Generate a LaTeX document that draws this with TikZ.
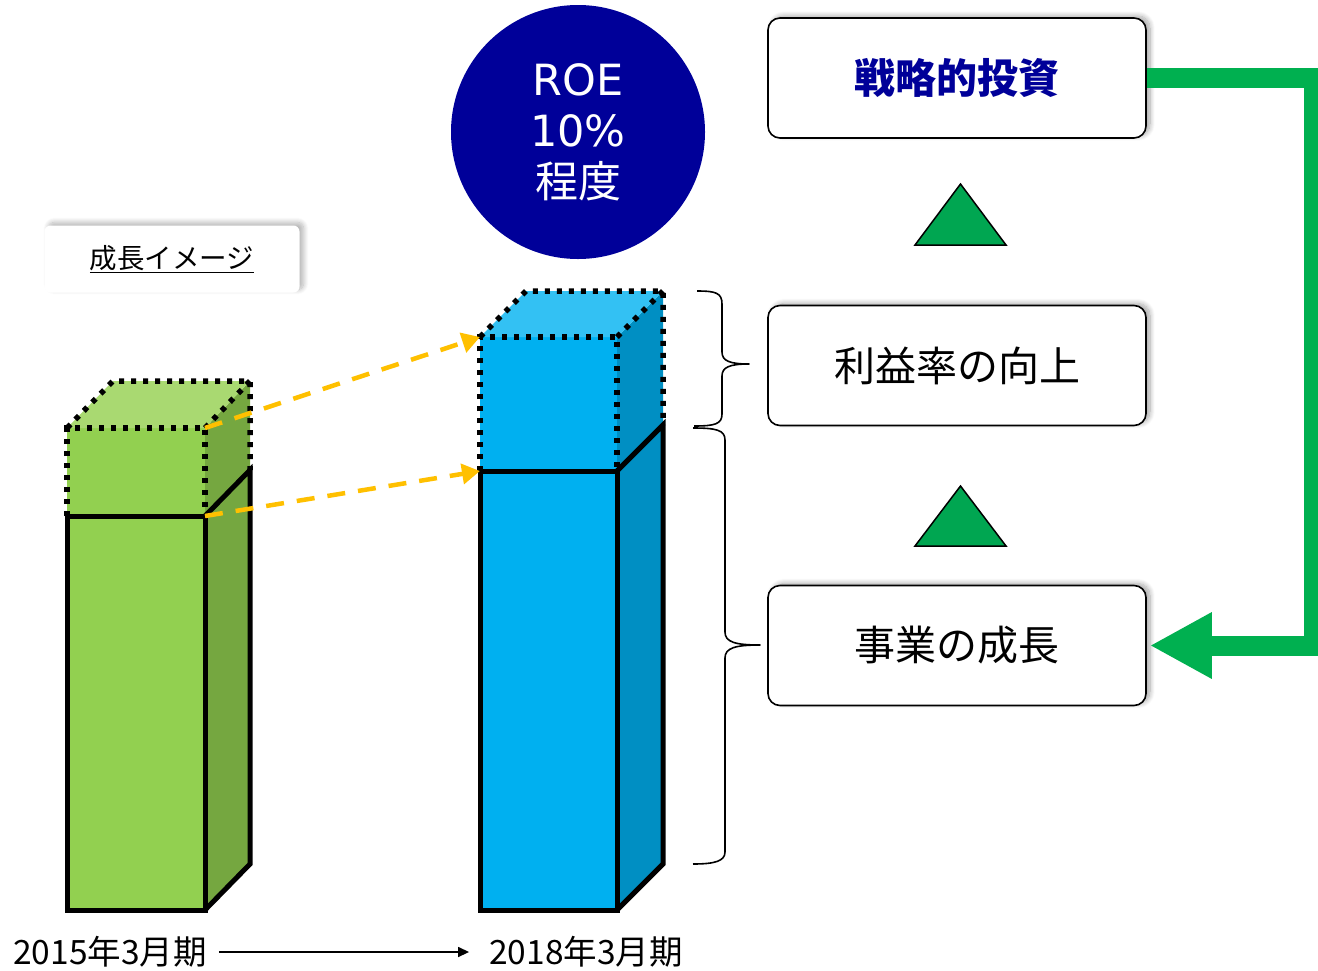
\documentclass[tikz,border=0pt]{standalone}
\usepackage{fontspec}
\setmainfont{Noto Sans CJK JP}
\newfontfamily\latinfont{DejaVu Sans}
\usetikzlibrary{arrows.meta,shadows,shadows.blur}
\definecolor{navy}{HTML}{000099}
\definecolor{gfront}{HTML}{92D050}
\definecolor{gtop}{HTML}{A9D971}
\definecolor{gside}{HTML}{75A740}
\definecolor{bfront}{HTML}{00B0F0}
\definecolor{btop}{HTML}{33C1F3}
\definecolor{bside}{HTML}{008FC3}
\definecolor{orangeA}{HTML}{FFC000}
\definecolor{greenA}{HTML}{00B050}
\definecolor{greenT}{HTML}{00A651}
\begin{document}
\begin{tikzpicture}[x=1pt,y=-1pt,
  solidedge/.style={line width=5pt, line join=miter},
  dotedge/.style={line width=5.5pt, dash pattern=on 5pt off 7pt, line join=miter},
  softshadow/.style={blur shadow={shadow xshift=4pt, shadow yshift=2pt,
     shadow blur radius=5pt, shadow blur steps=10, shadow opacity=35}},
  stepbox/.style={draw, rounded corners=12pt, line width=1.6pt, fill=white,
     minimum width=378pt, minimum height=120pt, inner sep=0pt,
     font=\fontsize{40}{48}\selectfont, softshadow},
  tri/.style={fill=greenT, draw=black, line width=1.5pt},
  orangearrow/.style={draw=orangeA, line width=4.5pt, dash pattern=on 18pt off 13pt,
     -{Triangle[length=18pt,width=20pt]}},
  bracepath/.style={line width=1.6pt, line join=round}
]
\useasboundingbox (0,0) rectangle (1318,970);

% ---------- green bar (2015) ----------
\fill[gfront] (67,516) -- (205,516) -- (205,910) -- (67,910) -- cycle;
\fill[gside] (205,516) -- (250,470) -- (250,864) -- (205,910) -- cycle;
\fill[gfront] (67,428) -- (205,428) -- (205,516) -- (67,516) -- cycle;
\fill[gside] (205,428) -- (250,381) -- (250,470) -- (205,516) -- cycle;
\fill[gtop] (67,428) -- (113,381) -- (250,381) -- (205,428) -- cycle;
\draw[solidedge] (67,516) -- (205,516) -- (205,910) -- (67,910) -- cycle;
\draw[solidedge] (205,516) -- (250,470) -- (250,864) -- (205,910);
\draw[dotedge] (67,516) -- (67,428) -- (205,428) -- (205,516);
\draw[dotedge] (67,428) -- (113,381) -- (250,381) -- (250,470);
\draw[dotedge] (205,428) -- (250,381);

% ---------- blue bar (2018) ----------
\fill[bfront] (480,471) -- (617,471) -- (617,910) -- (480,910) -- cycle;
\fill[bside] (617,471) -- (663,425) -- (663,864) -- (617,910) -- cycle;
\fill[bfront] (480,337) -- (617,337) -- (617,471) -- (480,471) -- cycle;
\fill[bside] (617,337) -- (663,291) -- (663,425) -- (617,471) -- cycle;
\fill[btop] (480,337) -- (526,291) -- (663,291) -- (617,337) -- cycle;
\draw[solidedge] (480,471) -- (617,471) -- (617,910) -- (480,910) -- cycle;
\draw[solidedge] (617,471) -- (663,425) -- (663,864) -- (617,910);
\draw[dotedge] (480,471) -- (480,337) -- (617,337) -- (617,471);
\draw[dotedge] (480,337) -- (526,291) -- (663,291) -- (663,425);
\draw[dotedge] (617,337) -- (663,291);

% ---------- orange growth arrows ----------
\coordinate (g1) at (205,428);
\coordinate (g2) at (205,516);
\coordinate (b1) at (480,337);
\coordinate (b2) at (480,471);
\draw[orangearrow] (g1) -- (b1);
\draw[orangearrow] (g2) -- (b2);

% ---------- ROE circle ----------
\node[circle, fill=navy, minimum size=254pt, inner sep=0pt, text=white, align=center,
      font=\fontsize{43}{51}\selectfont] (roe) at (578,132)
  {{\latinfont ROE}\\{\latinfont 10\%}\\程度};

% ---------- label ----------
\node[fill=white, rounded corners=6pt, minimum width=255pt, minimum height=67pt, inner sep=0pt,
      font=\fontsize{27.5}{32}\selectfont,
      blur shadow={shadow xshift=4pt, shadow yshift=3pt, shadow blur radius=5pt,
                   shadow blur steps=10, shadow opacity=30}] (lbl) at (172,259)
  {\underline{成長イメージ}};

% ---------- right boxes ----------
\node[stepbox, font=\fontsize{41}{48}\selectfont\bfseries, text=navy] (inv) at (957,78) {戦略的投資};
\node[stepbox, font=\fontsize{41}{48}\selectfont] (margin) at (957,365.5) {利益率の向上};
\node[stepbox, font=\fontsize{41}{48}\selectfont] (grow) at (957,645.5) {事業の成長};

% ---------- triangles ----------
\draw[tri] (915,245) -- (1006,245) -- (960.5,184) -- cycle;
\draw[tri] (915,546) -- (1006,546) -- (960.5,486) -- cycle;

% ---------- green loop arrow ----------
\coordinate (loopR) at (1314,78);
\draw[greenA, line width=20pt, line join=miter,
      -{Triangle[length=62pt,width=62pt]}]
  (inv.east) -- (loopR) |- ([xshift=3pt]grow.east);

% ---------- braces ----------
\draw[bracepath] (697,291) .. controls (716,291) and (722,293) .. (722,304)
  -- (722,352) .. controls (722,361) and (730,364) .. (749,364)
  .. controls (730,364) and (722,367) .. (722,376)
  -- (722,414) .. controls (722,424) and (715,426) .. (694,426);
\draw[bracepath] (693,428) .. controls (716,428) and (725,430) .. (725,440)
  -- (725,632) .. controls (725,642) and (735,645) .. (760,645)
  .. controls (735,645) and (725,648) .. (725,658)
  -- (725,852) .. controls (725,861) and (715,864) .. (693,864);

% ---------- time axis ----------
\node[inner sep=0pt, font=\fontsize{33.5}{38}\selectfont] (y15) at (110,952) {2015年3月期};
\node[inner sep=0pt, font=\fontsize{33.5}{38}\selectfont] (y18) at (586,952) {2018年3月期};
\draw[line width=1.5pt, -{Triangle[length=11pt,width=10pt]}]
  ([xshift=12pt]y15.east) -- ([xshift=-20pt]y18.west);
\end{tikzpicture}
\end{document}
